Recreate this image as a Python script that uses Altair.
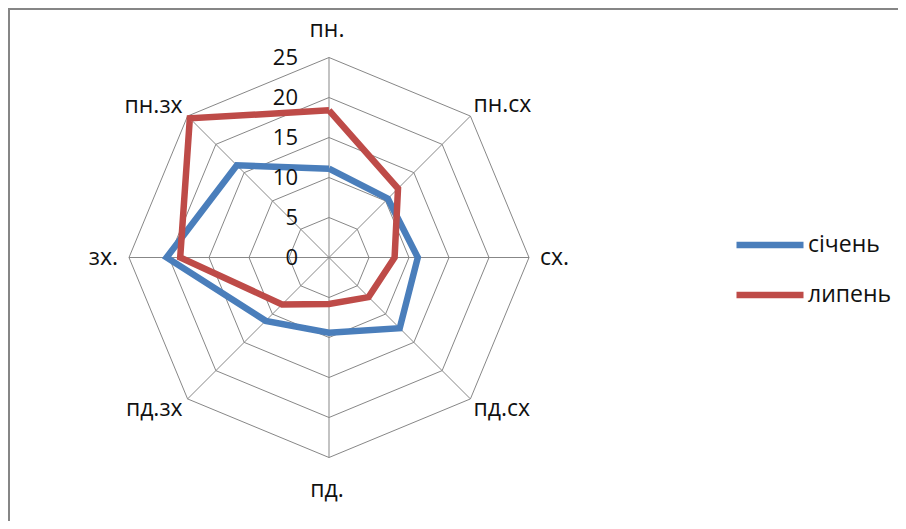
import altair as alt
import pandas as pd

directions = ["пн.", "пн.сх", "сх.", "пд.сх", "пд.", "пд.зх", "зх.", "пн.зх"]
series_names = ["січень", "липень"]
sichen = [11.1, 10.4, 11.1, 12.5, 9.4, 11.2, 20.3, 16.3]
lypen = [18.4, 12.2, 8.2, 7.0, 5.8, 8.3, 18.6, 24.6]
ticks = [0, 5, 10, 15, 20, 25]
colors = ["#4A7EBB", "#BE4B48"]

W, H = 890, 513
CX, CY = 321, 249.5   # centre in plot pixels
PX = 8.0               # pixels per unit
xdom = [-CX / PX, (W - CX) / PX]
ydom = [(CY - H) / PX, CY / PX]

n = len(directions)
rows = []
for name, vals in zip(series_names, [sichen, lypen]):
    for k in range(n + 1):
        rows.append({"series": name, "idx": k % n, "ord": k, "value": vals[k % n]})
series_df = pd.DataFrame(rows)

grid_rows = []
for t in ticks[1:]:
    for k in range(n + 1):
        grid_rows.append({"ring": t, "idx": k % n, "ord": k, "value": t})
grid_df = pd.DataFrame(grid_rows)

dir_df = pd.DataFrame({"dir": directions, "idx": list(range(n)), "value": [ticks[-1]] * n})
tick_df = pd.DataFrame({"t": ticks, "label": [str(t) for t in ticks]})

xs = alt.Scale(domain=xdom, nice=False, zero=False)
ys = alt.Scale(domain=ydom, nice=False, zero=False)
X = lambda f: alt.X(f, type="quantitative", scale=xs, axis=None)
Y = lambda f: alt.Y(f, type="quantitative", scale=ys, axis=None)

polar = dict(px="datum.value*sin(datum.idx*PI/4)", py="datum.value*cos(datum.idx*PI/4)")

grid = alt.Chart(grid_df).transform_calculate(**polar).mark_line(
    color="#878787", strokeWidth=1
).encode(x=X("px"), y=Y("py"), detail="ring:N", order="ord:Q")

spokes = alt.Chart(dir_df).transform_calculate(
    px="datum.value*sin(datum.idx*PI/4)", py="datum.value*cos(datum.idx*PI/4)", zx="0", zy="0"
).mark_rule(color="#878787", strokeWidth=1).encode(
    x=X("zx"), y=Y("zy"), x2="px:Q", y2="py:Q"
)

font = "Open Sans"
lines = alt.Chart(series_df).transform_calculate(**polar).mark_line(
    strokeWidth=6.5, strokeJoin="miter"
).encode(
    x=X("px"), y=Y("py"), order="ord:Q",
    color=alt.Color("series:N", scale=alt.Scale(domain=series_names, range=colors),
                    legend=alt.Legend(title=None, orient="none", legendX=725, legendY=200,
                                      symbolType="stroke", symbolSize=4489, symbolStrokeWidth=6.5,
                                      labelFont=font, labelFontSize=23, labelColor="#111",
                                      labelOffset=1, rowPadding=-15, padding=0)),
)

tick_labels = alt.Chart(tick_df).transform_calculate(zx="0").mark_text(
    align="right", baseline="middle", dx=-31, font=font, fontSize=22, color="#111"
).encode(x=X("zx"), y=Y("t"), text="label:N")

def dir_layer(filt, **kw):
    return alt.Chart(dir_df).transform_filter(filt).transform_calculate(**polar).mark_text(
        font=font, fontSize=23, color="#111", baseline="middle", **kw
    ).encode(x=X("px"), y=Y("py"), text="dir:N")

labels = [
    dir_layer("datum.idx==0", align="center", dy=-28, dx=-2),
    dir_layer("datum.idx==4", align="center", dy=32, dx=-2),
    dir_layer("datum.idx==2", align="left", dx=11),
    dir_layer("datum.idx==6", align="right", dx=-11),
    dir_layer("datum.idx==1", align="left", dx=3, dy=-11),
    dir_layer("datum.idx==3", align="left", dx=3, dy=10),
    dir_layer("datum.idx==5", align="right", dx=-5, dy=10),
    dir_layer("datum.idx==7", align="right", dx=-5, dy=-10),
]

border_l = alt.Chart(tick_df).mark_rule(color="#868686", strokeWidth=2).encode(
    x=alt.value(1), y=alt.value(0), y2=alt.value(H))
border_t = alt.Chart(tick_df).mark_rule(color="#868686", strokeWidth=2).encode(
    y=alt.value(1), x=alt.value(0), x2=alt.value(W))

chart = alt.layer(grid, spokes, lines, tick_labels, *labels, border_l, border_t).properties(
    width=W, height=H, autosize="none", padding=0
).configure_view(stroke=None)

chart.save("out.html", embed_options={"renderer": "svg", "actions": False})
